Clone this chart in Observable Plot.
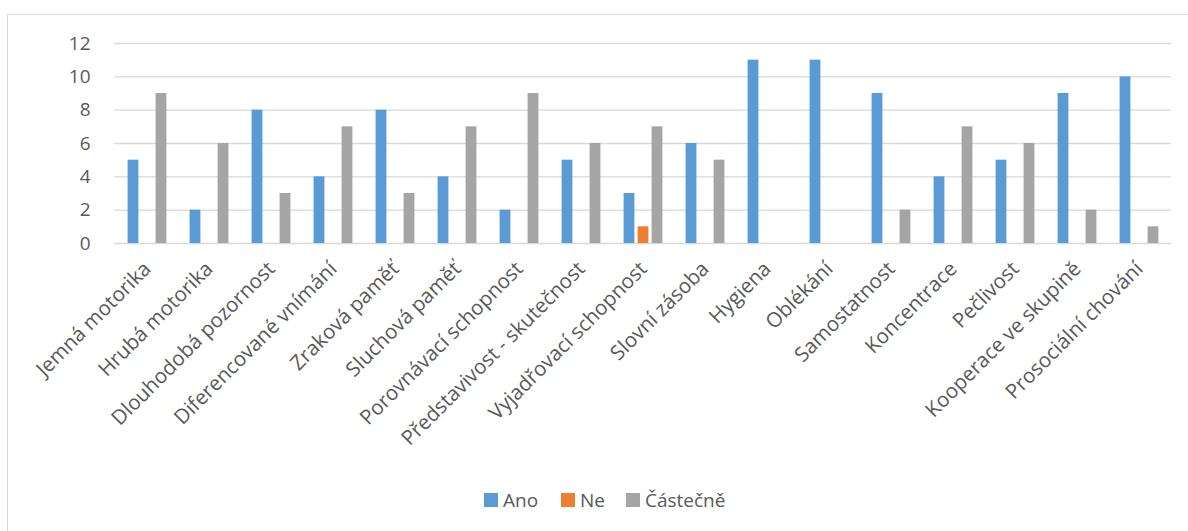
<!DOCTYPE html>
<html><head><meta charset="utf-8">
<script src="https://cdn.jsdelivr.net/npm/d3@7"></script>
<script src="https://cdn.jsdelivr.net/npm/@observablehq/plot@0.6"></script>
<style>
body{margin:0;background:#fff;font-family:"Open Sans",sans-serif;width:1188px;height:531px;overflow:hidden;position:relative;}
#frame{position:absolute;left:7px;top:14px;width:1200px;height:540px;border:1.5px solid #d9d9d9;box-sizing:border-box;}
#chart{position:absolute;left:0;top:0;}
.lg{position:absolute;top:488px;height:24px;display:flex;align-items:center;font-size:19px;color:#595959;}
.lg span.sw{display:inline-block;width:14px;height:14px;margin-right:5px;}
</style></head>
<body>
<div id="frame"></div>
<div id="chart"></div>
<div id="legend"></div>
<script>
const categories = ["Jemná motorika","Hrubá motorika","Dlouhodobá pozornost","Diferencované vnímání","Zraková paměť","Sluchová paměť","Porovnávací schopnost","Představivost - skutečnost","Vyjadřovací schopnost","Slovní zásoba","Hygiena","Oblékání","Samostatnost","Koncentrace","Pečlivost","Kooperace ve skupině","Prosociální chování"];
const ano      = [5,2,8,4,8,4,2,5,3,6,11,11,9,4,5,9,10];
const ne       = [0,0,0,0,0,0,0,0,1,0,0,0,0,0,0,0,0];
const castecne = [9,6,3,7,3,7,9,6,7,5,0,0,2,7,6,2,1];
const seriesNames = ["Ano","Ne","Částečně"];
const seriesColors = ["#5B9BD5","#ED7D31","#A5A5A5"];
const yTicks = [0,2,4,6,8,10,12];

const W = 1188, mL = 114, mR = 17;
const step = (W - mL - mR) / categories.length;
const barW = 11;
const inset = (step - barW) / 2;
const seriesValues = [ano, ne, castecne];

const plot = Plot.plot({
  width: W, height: 470,
  marginLeft: mL, marginRight: mR, marginTop: 43, marginBottom: 227,
  style: {fontFamily: "'Open Sans', sans-serif", fontSize: "19px", color: "#595959", background: "transparent", overflow: "visible"},
  x: {type: "band", domain: categories, padding: 0, axis: null},
  y: {domain: [0, 12], axis: null},
  marks: [
    Plot.gridY(yTicks, {stroke: "#d9d9d9", strokeOpacity: 1, strokeWidth: 1.3}),
    ...seriesValues.map((vals, i) => Plot.barY(
      categories.map((c, j) => ({c, v: vals[j]})),
      {x: "c", y: "v", fill: seriesColors[i], dx: (i - 1) * 14, insetLeft: inset, insetRight: inset})),
    Plot.axisY({ticks: yTicks, tickSize: 0, tickPadding: 24, fontSize: 19, label: null}),
    Plot.axisX({tickRotate: -45, tickSize: 0, tickPadding: 22, fontSize: 20.5, label: null})
  ]
});
document.getElementById("chart").appendChild(plot);

const lgLeft = [484, 561, 626];
const legend = document.getElementById("legend");
seriesNames.forEach((n, i) => {
  const d = document.createElement("div");
  d.className = "lg";
  d.style.left = lgLeft[i] + "px";
  d.innerHTML = `<span class="sw" style="background:${seriesColors[i]}"></span>${n}`;
  legend.appendChild(d);
});
</script>
</body></html>
